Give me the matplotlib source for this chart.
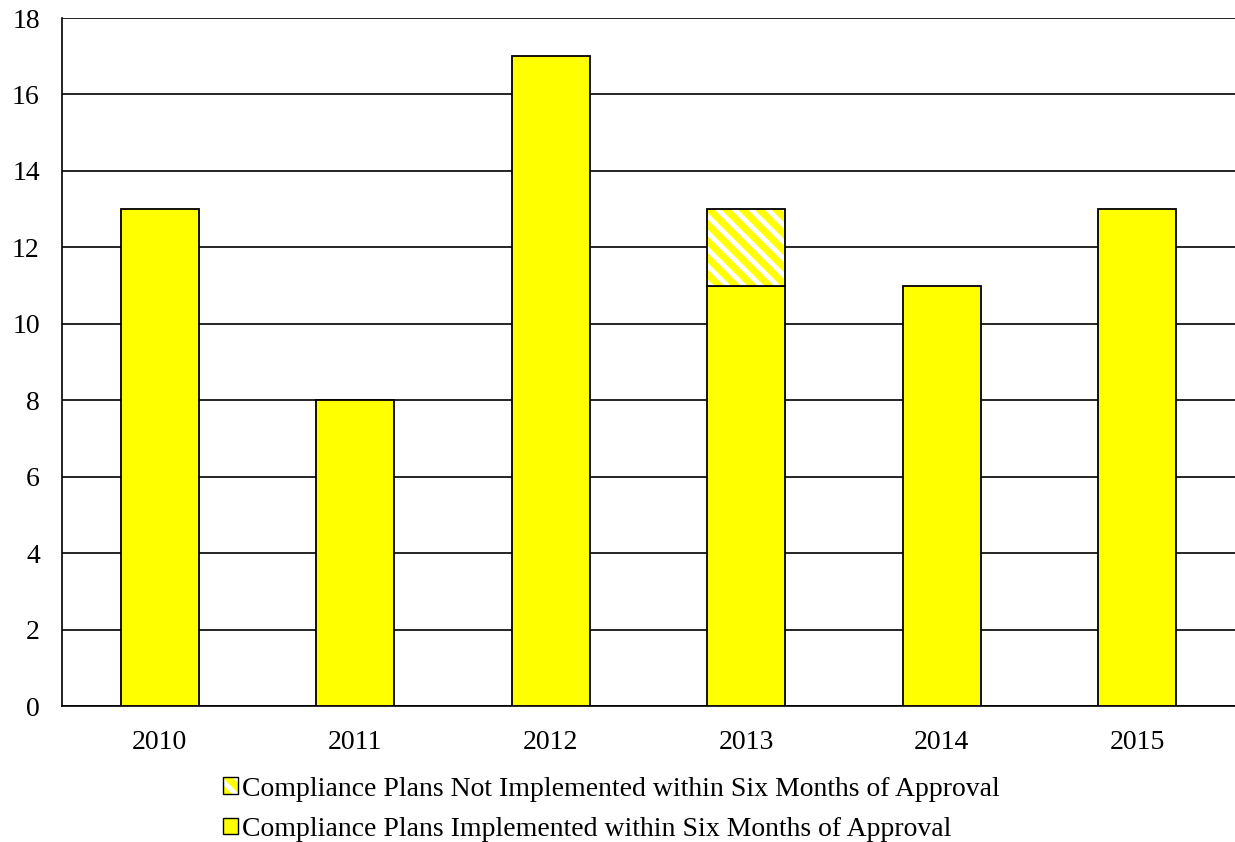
import matplotlib
matplotlib.use("Agg")
import matplotlib.pyplot as plt
from matplotlib.patches import Patch
from matplotlib.legend_handler import HandlerBase
import matplotlib.patches as mpatches

years = ["2010", "2011", "2012", "2013", "2014", "2015"]
implemented = [13, 8, 17, 11, 11, 13]
not_implemented = [0, 0, 0, 2, 0, 0]
label_not = "Compliance Plans Not Implemented within Six Months of Approval"
label_impl = "Compliance Plans Implemented within Six Months of Approval"

plt.rcParams['font.family'] = ['Liberation Serif', 'DejaVu Serif']
plt.rcParams['hatch.linewidth'] = 5.0

fig = plt.figure(figsize=(12.35, 8.42), dpi=100)
ax = fig.add_axes([0.0502, 0.1615, 0.9498, 0.8171])

x = list(range(len(years)))
w = 0.4
ax.bar(x, implemented, width=w, color='#FFFF00', edgecolor='black', linewidth=1.3, zorder=3)
# hatched portion: yellow stripes on white
ax.bar(x, not_implemented, width=w, bottom=implemented, color='white', edgecolor='#FFFF00',
       hatch='\\\\', linewidth=0, zorder=3)
for xi, b, h in zip(x, implemented, not_implemented):
    if h > 0:
        ax.bar(xi, h, width=w, bottom=b, color='none', edgecolor='black', linewidth=1.3, zorder=4)

ax.set_xlim(-0.5, 5.5)
ax.set_ylim(0, 18)
ax.set_yticks(range(0, 19, 2))
ax.set_xticks(x)
ax.set_xticklabels(years)
ax.yaxis.grid(True, color='black', linewidth=1.2, zorder=0)
ax.set_axisbelow(True)
for s in ['top', 'right']:
    ax.spines[s].set_visible(False)
ax.spines['left'].set_linewidth(1.2)
ax.spines['bottom'].set_linewidth(1.2)
ax.tick_params(axis='both', length=0, labelsize=20)
ax.tick_params(axis='x', pad=17)
ax.tick_params(axis='y', pad=16)


class HatchHandler(HandlerBase):
    def create_artists(self, legend, orig_handle, xdescent, ydescent, width, height, fontsize, trans):
        p1 = mpatches.Rectangle((-xdescent, -ydescent), width, height, facecolor='white',
                                edgecolor='#FFFF00', hatch='\\\\', linewidth=0, transform=trans)
        p2 = mpatches.Rectangle((-xdescent, -ydescent), width, height, facecolor='none',
                                edgecolor='black', linewidth=1.0, transform=trans)
        return [p1, p2]


h_not = Patch(label=label_not)
h_impl = Patch(facecolor='#FFFF00', edgecolor='black', linewidth=1.0, label=label_impl)
fig.legend(handles=[h_not, h_impl], labels=[label_not, label_impl],
           handler_map={h_not: HatchHandler()},
           loc='center', bbox_to_anchor=(0.495, 0.039), frameon=False, fontsize=20,
           handlelength=0.55, handleheight=0.55, handletextpad=0.15, labelspacing=0.55)

fig.savefig("out.png", dpi=100)
